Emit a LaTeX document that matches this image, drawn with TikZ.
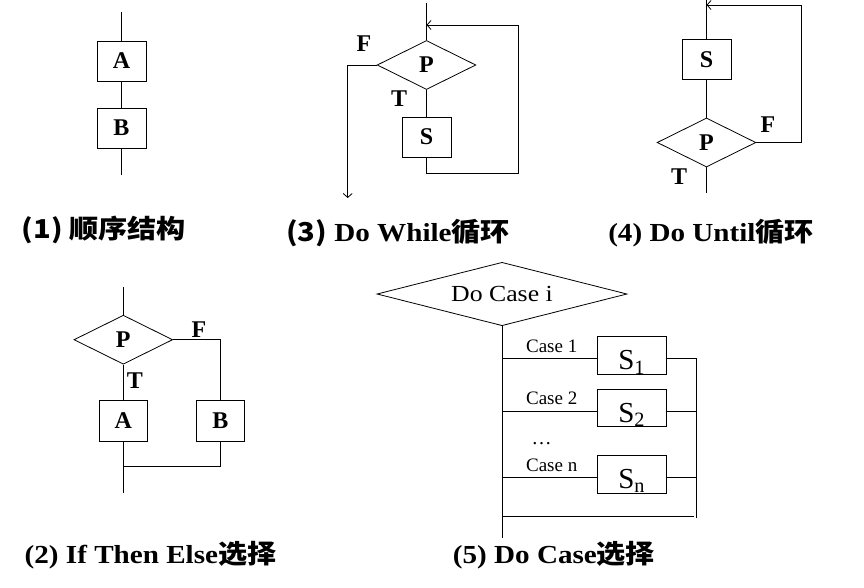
\documentclass[tikz,border=0pt]{standalone}
\usepackage{graphicx}
\usepackage{fontspec}
\setmainfont{Liberation Serif}
\newfontfamily\cjk{Noto Sans CJK SC}
\usetikzlibrary{shapes.geometric,arrows.meta}
\newcommand\wx[1]{\scalebox{1.12}[1]{#1}}
\tikzset{
  ln/.style={line width=0.8pt},
  arr/.style={ln,-{Straight Barb[length=4pt,width=9pt,line width=0.8pt]}},
  stepbox/.style={draw,ln,minimum width=49pt,minimum height=40pt,inner sep=0pt,
    font=\bfseries\fontsize{24}{24}\selectfont},
  casebox/.style={draw,ln,minimum width=68.7pt,minimum height=37.4pt,inner sep=0pt},
  dec/.style={draw,ln,diamond,minimum width=98.7pt,minimum height=49pt,inner sep=0pt,
    font=\bfseries\fontsize{24}{24}\selectfont},
  lbl/.style={font=\bfseries\fontsize{24}{24}\selectfont,inner sep=0pt},
  captxt/.style={font=\bfseries\fontsize{26}{26}\selectfont,inner sep=0pt},
  caselbl/.style={font=\fontsize{19}{19}\selectfont,inner sep=0pt},
  stxt/.style={font=\fontsize{29}{29}\selectfont,inner sep=0pt,anchor=base}
}
\begin{document}
\begin{tikzpicture}[x=1pt,y=-1pt]
\path[use as bounding box] (0,0) rectangle (864,587);

% (1) sequence
\node[stepbox] (A1) at (121.5,61) {A};
\node[stepbox] (B1) at (121.5,128) {B};
\coordinate (t1) at (121.5,12);
\coordinate (e1) at (121.5,175);
\draw[ln] (t1) -- (A1) (A1) -- (B1) (B1) -- (e1);
\node[captxt] (cap1) at (104,230) {\wx{\cjk\bfseries (1) 顺序结构}};

% (3) Do While
\node[dec] (P3) at (426.5,65) {P};
\node[stepbox] (S3) at (426.5,137) {S};
\coordinate (t3) at (426.5,3);
\coordinate (j3) at (426.5,25);
\coordinate (r3t) at (518,25);
\coordinate (r3b) at (518,173);
\coordinate (s3b) at (426.5,173);
\coordinate (f3) at (347.7,65);
\coordinate (f3e) at (347.7,198);
\draw[ln] (t3) -- (P3.north);
\draw[ln] (P3) -- (S3);
\draw[arr] (S3.south) -- (s3b) -- (r3b) -- (r3t) -- (j3);
\draw[arr] (P3.west) -- (f3) -- (f3e);
\node[lbl] (F3) at (364,44) {F};
\node[lbl] (T3) at (399,99) {T};
\node[captxt] (cap3) at (398,233) {\wx{{\cjk\bfseries (3)} Do While{\cjk\bfseries 循环}}};

% (4) Do Until
\node[stepbox] (S4) at (706.5,59.5) {S};
\node[dec] (P4) at (706.5,142.5) {P};
\coordinate (t4) at (706.5,0);
\coordinate (j4) at (706.5,5);
\coordinate (r4t) at (801.7,5);
\coordinate (r4b) at (801.7,142.5);
\coordinate (e4) at (706.5,193);
\draw[ln] (t4) -- (S4.north);
\draw[ln] (S4) -- (P4);
\draw[arr] (P4.east) -- (r4b) -- (r4t) -- (j4);
\draw[ln] (P4.south) -- (e4);
\node[lbl] (F4) at (768,125) {F};
\node[lbl] (T4) at (679,177) {T};
\node[captxt] (cap4) at (711,233) {\wx{(4) Do Until{\cjk\bfseries 循环}}};

% (2) If Then Else
\node[dec] (P2) at (123.3,339.7) {P};
\node[stepbox,minimum width=48pt,minimum height=41.7pt] (A2) at (123.3,420.8) {A};
\node[stepbox,minimum width=48pt,minimum height=41.7pt] (B2) at (220.5,420.8) {B};
\coordinate (t2) at (123.3,287);
\coordinate (e2) at (123.3,492.7);
\coordinate (j2) at (123.3,466.7);
\draw[ln] (t2) -- (P2.north);
\draw[ln] (P2.south) -- (A2.north);
\draw[ln] (P2.east) -- (P2.east -| B2.north) -- (B2.north);
\draw[ln] (A2.south) -- (e2);
\draw[ln] (B2.south) -- (B2.south |- j2) -- (j2);
\node[lbl] (F2) at (199,330) {F};
\node[lbl] (T2) at (135,381) {T};
\node[captxt] (cap2) at (150.5,555) {\wx{(2) If Then Else{\cjk\bfseries 选择}}};

% (5) Do Case
\node[draw,ln,diamond,aspect=3.94,minimum width=250pt,minimum height=63.4pt,inner sep=0pt,
  font=\fontsize{23}{23}\selectfont] (D5) at (502,294) {\wx{Do Case i}};
\node[casebox] (S51) at (631.7,355.5) {};
\node[casebox] (S52) at (631.7,408) {};
\node[casebox] (S5n) at (631.7,474.2) {};
\node[stxt] (t51) at ([yshift=5pt]S51.south) {S\textsubscript{1}};
\node[stxt] (t52) at ([yshift=5pt]S52.south) {S\textsubscript{2}};
\node[stxt] (t5n) at ([yshift=5pt]S5n.south) {S\textsubscript{n}};
\coordinate (c1) at (502,358.3);
\coordinate (c2) at (502,411);
\coordinate (cn) at (502,477.3);
\coordinate (e5) at (502,538);
\coordinate (b5) at (502,516.7);
\coordinate (b5r) at (694,516.7);
\coordinate (r5t) at (696,358.3);
\coordinate (r5b) at (696,517.5);
\draw[ln] (D5.south) -- (e5);
\draw[ln] (c1) -- (c1 -| S51.west) (c2) -- (c2 -| S52.west) (cn) -- (cn -| S5n.west);
\draw[ln] (c1 -| S51.east) -- (r5t) (c2 -| S52.east) -- (c2 -| r5t) (cn -| S5n.east) -- (cn -| r5t);
\draw[ln] (r5t) -- (r5b);
\draw[ln] (b5) -- (b5r);
\node[caselbl] (k1) at (551.7,346) {Case 1};
\node[caselbl] (k2) at (551.7,398.5) {Case 2};
\node[caselbl] (kn) at (551.7,465) {Case n};
\node[caselbl,font=\fontsize{20}{20}\selectfont,anchor=base] (dots) at (541.7,444) {\dots};
\node[captxt] (cap5) at (554,555) {\wx{(5) Do Case{\cjk\bfseries 选择}}};
\end{tikzpicture}
\end{document}
